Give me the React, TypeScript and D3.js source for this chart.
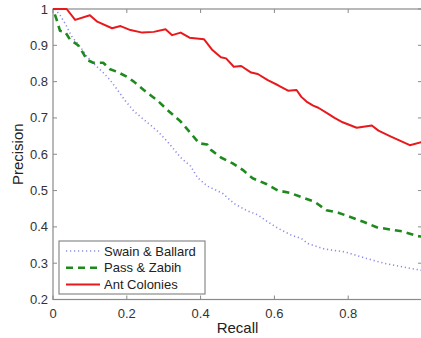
import { useEffect, useRef } from 'react'
import * as d3 from 'd3'

// Precision / recall curves
const swainBallard: [number, number][] = [
  [0.005, 1.0], [0.019, 0.983], [0.033, 0.96], [0.051, 0.924], [0.074, 0.896], [0.092, 0.869],
  [0.114, 0.846], [0.136, 0.825], [0.155, 0.804], [0.174, 0.778], [0.196, 0.747], [0.22, 0.718],
  [0.255, 0.688], [0.283, 0.664], [0.31, 0.635], [0.346, 0.591], [0.373, 0.567], [0.392, 0.535],
  [0.419, 0.512], [0.46, 0.492], [0.491, 0.464], [0.523, 0.446], [0.555, 0.433], [0.582, 0.414],
  [0.61, 0.396], [0.646, 0.377], [0.673, 0.368], [0.691, 0.354], [0.736, 0.339], [0.791, 0.331],
  [0.85, 0.313], [0.9, 0.299], [0.946, 0.29], [0.995, 0.281], [1.0, 0.28],
]

const passZabih: [number, number][] = [
  [0.005, 0.985], [0.01, 0.97], [0.019, 0.94], [0.033, 0.937], [0.046, 0.916], [0.068, 0.9],
  [0.082, 0.878], [0.092, 0.86], [0.109, 0.852], [0.136, 0.852], [0.155, 0.834], [0.174, 0.827],
  [0.201, 0.813], [0.219, 0.8], [0.246, 0.777], [0.282, 0.749], [0.31, 0.722], [0.346, 0.69],
  [0.373, 0.658], [0.396, 0.63], [0.418, 0.627], [0.428, 0.612], [0.455, 0.591], [0.487, 0.575],
  [0.514, 0.557], [0.541, 0.534], [0.578, 0.518], [0.61, 0.5], [0.641, 0.494], [0.673, 0.482],
  [0.709, 0.469], [0.741, 0.446], [0.773, 0.439], [0.804, 0.428], [0.841, 0.414], [0.877, 0.399],
  [0.913, 0.393], [0.946, 0.388], [0.986, 0.375], [1.0, 0.373],
]

const antColonies: [number, number][] = [
  [0, 1.0], [0.037, 1.0], [0.06, 0.97], [0.1, 0.983], [0.12, 0.965], [0.16, 0.947], [0.183, 0.953],
  [0.21, 0.942], [0.242, 0.935], [0.273, 0.937], [0.305, 0.944], [0.323, 0.928], [0.346, 0.935],
  [0.37, 0.921], [0.409, 0.917], [0.432, 0.887], [0.455, 0.867], [0.469, 0.864], [0.49, 0.841],
  [0.51, 0.843], [0.537, 0.825], [0.555, 0.821], [0.582, 0.804], [0.61, 0.79], [0.637, 0.775],
  [0.66, 0.777], [0.673, 0.758], [0.687, 0.745], [0.705, 0.734], [0.719, 0.728], [0.746, 0.711],
  [0.763, 0.7], [0.785, 0.688], [0.823, 0.673], [0.864, 0.679], [0.882, 0.665], [0.913, 0.65],
  [0.937, 0.639], [0.967, 0.625], [1.0, 0.634],
]

// the "1" label at the right end falls outside the cropped figure
const xTicks = [0, 0.2, 0.4, 0.6, 0.8, 1]
const xTickLabels = ['0', '0.2', '0.4', '0.6', '0.8', '']
const yTicks = [0.2, 0.3, 0.4, 0.5, 0.6, 0.7, 0.8, 0.9, 1]

const series = [
  { name: 'Swain & Ballard', data: swainBallard, color: '#8c8ce8', width: 1.6, dash: '1.2,2.8' },
  { name: 'Pass & Zabih', data: passZabih, color: '#1e8a1e', width: 2.6, dash: '7,5' },
  { name: 'Ant Colonies', data: antColonies, color: '#e8191c', width: 2, dash: null },
]

export default function App() {
  const svgRef = useRef<SVGSVGElement>(null)

  useEffect(() => {
    if (!svgRef.current) return
    const svg = d3.select(svgRef.current)
    svg.selectAll('*').remove()

    const left = 53, right = 422, top = 9, bottom = 299.5
    const x = d3.scaleLinear().domain([0, 1]).range([left, right])
    const y = d3.scaleLinear().domain([0.2, 1]).range([bottom, top])
    const font = 'Arial, "Liberation Sans", Helvetica, sans-serif'

    svg.append('rect').attr('width', 421).attr('height', 338).attr('fill', '#fff')

    // box + inward ticks
    const axisColor = '#8a8a8a'
    svg.append('rect')
      .attr('x', left).attr('y', top)
      .attr('width', right - left).attr('height', bottom - top)
      .attr('fill', 'none').attr('stroke', axisColor).attr('stroke-width', 1.2)

    xTicks.forEach((t, i) => {
      svg.append('line').attr('x1', x(t)).attr('x2', x(t)).attr('y1', bottom).attr('y2', bottom - 4)
        .attr('stroke', axisColor)
      svg.append('line').attr('x1', x(t)).attr('x2', x(t)).attr('y1', top).attr('y2', top + 4)
        .attr('stroke', axisColor)
      if (xTickLabels[i]) {
        svg.append('text').attr('x', x(t)).attr('y', bottom + 18)
          .attr('text-anchor', 'middle').attr('font-family', font).attr('font-size', 13)
          .attr('fill', '#333').text(xTickLabels[i])
      }
    })
    yTicks.forEach(t => {
      svg.append('line').attr('x1', left).attr('x2', left + 4).attr('y1', y(t)).attr('y2', y(t))
        .attr('stroke', axisColor)
      svg.append('line').attr('x1', right).attr('x2', right - 4).attr('y1', y(t)).attr('y2', y(t))
        .attr('stroke', axisColor)
      svg.append('text').attr('x', left - 5).attr('y', y(t) + 4.5)
        .attr('text-anchor', 'end').attr('font-family', font).attr('font-size', 13)
        .attr('fill', '#333').text(d3.format('~g')(t))
    })

    svg.append('text').attr('x', (left + right) / 2).attr('y', 333)
      .attr('text-anchor', 'middle').attr('font-family', font).attr('font-size', 15)
      .attr('fill', '#222').text('Recall')
    svg.append('text').attr('transform', `translate(23,${(top + bottom) / 2}) rotate(-90)`)
      .attr('text-anchor', 'middle').attr('font-family', font).attr('font-size', 15)
      .attr('fill', '#222').text('Precision')

    const line = d3.line<[number, number]>().x(d => x(d[0])).y(d => y(d[1]))
    series.forEach(s => {
      const p = svg.append('path').attr('d', line(s.data)).attr('fill', 'none')
        .attr('stroke', s.color).attr('stroke-width', s.width).attr('stroke-linejoin', 'round')
      if (s.dash) p.attr('stroke-dasharray', s.dash)
    })

    // legend
    const lg = svg.append('g').attr('transform', 'translate(59,241)')
    lg.append('rect').attr('width', 146).attr('height', 53).attr('fill', '#fff')
      .attr('stroke', axisColor).attr('stroke-width', 1.2)
    series.forEach((s, i) => {
      const ly = 10 + i * 16.7
      const l = lg.append('line').attr('x1', 7).attr('x2', 41).attr('y1', ly).attr('y2', ly)
        .attr('stroke', s.color).attr('stroke-width', s.width)
      if (s.dash) l.attr('stroke-dasharray', s.dash)
      lg.append('text').attr('x', 45).attr('y', ly + 4.5).attr('font-family', font)
        .attr('font-size', 13).attr('fill', '#222').text(s.name)
    })
  }, [])

  return (
    <svg ref={svgRef} width={421} height={338}
      style={{ position: 'absolute', left: 0, top: 0, display: 'block' }} />
  )
}
